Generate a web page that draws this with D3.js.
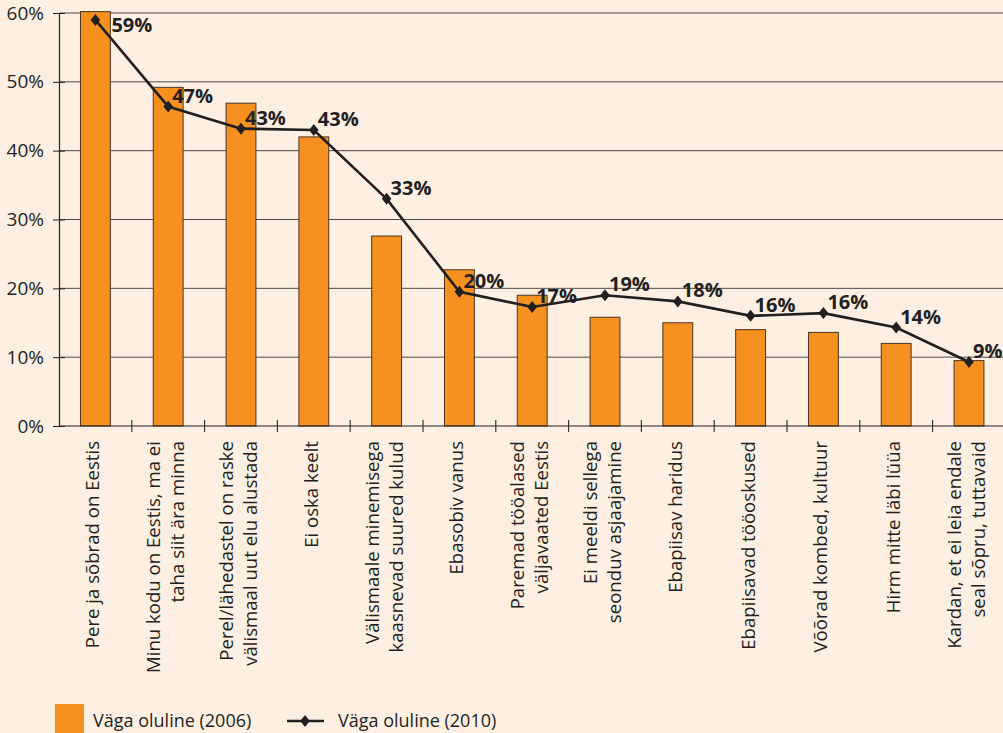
<!DOCTYPE html>
<html lang="et">
<head>
<meta charset="UTF-8">
<title>Väga oluline 2006 / 2010</title>
<script src="https://d3js.org/d3.v7.min.js"></script>
<style>
  html, body { margin: 0; padding: 0; background: #fdf0e2; }
  svg { display: block; }
  text { font-family: 'Open Sans', sans-serif; fill: #231f20; }
</style>
</head>
<body>
<svg id="chart" width="1003" height="733"></svg>
<script>
// categories (each entry = label lines)
const categories = [
  ['Pere ja sõbrad on Eestis'],
  ['Minu kodu on Eestis, ma ei', 'taha siit ära minna'],
  ['Perel/lähedastel on raske', 'välismaal uut elu alustada'],
  ['Ei oska keelt'],
  ['Välismaale minemisega', 'kaasnevad suured kulud'],
  ['Ebasobiv vanus'],
  ['Paremad tööalased', 'väljavaated Eestis'],
  ['Ei meeldi sellega', 'seonduv asjaajamine'],
  ['Ebapiisav haridus'],
  ['Ebapiisavad tööoskused'],
  ['Võõrad kombed, kultuur'],
  ['Hirm mitte läbi lüüa'],
  ['Kardan, et ei leia endale', 'seal sõpru, tuttavaid']
];
const values2006 = [60.2, 49.2, 46.9, 42.0, 27.6, 22.7, 19.0, 15.8, 15.0, 14.0, 13.6, 12.0, 9.5];
const values2010 = [59.0, 46.4, 43.2, 43.0, 33.0, 19.5, 17.3, 19.0, 18.1, 16.0, 16.4, 14.3, 9.3];
const labels2010 = ['59%', '47%', '43%', '43%', '33%', '20%', '17%', '19%', '18%', '16%', '16%', '14%', '9%'];
const yTicks = [0, 10, 20, 30, 40, 50, 60];
const legendNames = ['Väga oluline (2006)', 'Väga oluline (2010)'];

const svg = d3.select('#chart');
const W = +svg.attr('width');

const mLeft = 59, mTop = 13, mBottom = 426, step = 72.8;
const idx = categories.map((d, i) => i);

const x = d3.scaleBand().domain(idx).range([mLeft, mLeft + step * categories.length]).padding(0);
const y = d3.scaleLinear().domain([0, 60]).range([mBottom, mTop]);
const barW = x.bandwidth() * 0.41;

// gridlines
svg.append('g').selectAll('line').data(yTicks.filter(t => t > 0)).enter().append('line')
  .attr('x1', mLeft).attr('x2', W)
  .attr('y1', d => y(d)).attr('y2', d => y(d))
  .attr('stroke', '#4d4a48').attr('stroke-width', 1);

// bars
svg.append('g').selectAll('rect').data(values2006).enter().append('rect')
  .attr('x', (d, i) => x(i) + (x.bandwidth() - barW) / 2)
  .attr('y', d => y(d))
  .attr('width', barW)
  .attr('height', d => y(0) - y(d))
  .attr('fill', '#f6901e')
  .attr('stroke', '#4a3524').attr('stroke-width', 1);

// y axis
const yAxis = svg.append('g').attr('transform', `translate(${mLeft},0)`)
  .call(d3.axisLeft(y).tickValues(yTicks).tickFormat(d => d + '%').tickSize(6).tickPadding(9));
yAxis.select('.domain').attr('stroke', '#231f20').attr('stroke-width', 1.2);
yAxis.selectAll('.tick line').attr('x1', -6).attr('x2', 6).attr('stroke', '#231f20');
yAxis.selectAll('.tick text').style('font-size', '19px').attr('fill', '#231f20')
  .attr('font-family', "'Open Sans', sans-serif");

// x axis
svg.append('line').attr('x1', mLeft).attr('x2', W).attr('y1', mBottom).attr('y2', mBottom)
  .attr('stroke', '#231f20').attr('stroke-width', 1.2);
svg.append('g').selectAll('line').data(idx.slice(1)).enter().append('line')
  .attr('x1', d => x(d)).attr('x2', d => x(d))
  .attr('y1', mBottom - 6).attr('y2', mBottom + 6)
  .attr('stroke', '#3a3634').attr('stroke-width', 1.2);

// category labels
const lineH = 24;
const catG = svg.append('g').selectAll('g').data(categories).enter().append('g')
  .attr('transform', (d, i) => `translate(${x(i) + x.bandwidth() / 2},441) rotate(-90)`);
catG.each(function(lines) {
  const g = d3.select(this);
  lines.forEach((t, j) => {
    g.append('text')
      .attr('x', 0)
      .attr('y', (j - (lines.length - 1) / 2) * lineH + 4)
      .attr('text-anchor', 'end')
      .style('font-size', '18.6px')
      .text(t);
  });
});

// 2010 line
const cx = i => x(i) + x.bandwidth() / 2;
svg.append('path').datum(values2010)
  .attr('d', d3.line().x((d, i) => cx(i)).y(d => y(d)))
  .attr('fill', 'none').attr('stroke', '#231f20').attr('stroke-width', 2.6);

const diamond = {
  draw(ctx) {
    ctx.moveTo(0, -6); ctx.lineTo(4.8, 0); ctx.lineTo(0, 6); ctx.lineTo(-4.8, 0); ctx.closePath();
  }
};
svg.append('g').selectAll('path').data(values2010).enter().append('path')
  .attr('transform', (d, i) => `translate(${cx(i)},${y(d)})`)
  .attr('d', d3.symbol().type(diamond))
  .attr('fill', '#231f20');

// data labels
svg.append('g').selectAll('text').data(values2010).enter().append('text')
  .attr('x', (d, i) => cx(i) + (y(d) - 18 < mTop ? 16 : 4))
  .attr('y', d => y(d) - 18 < mTop ? y(d) + 12 : y(d) - 4)
  .style('font-size', '20px').style('font-weight', 700)
  .text((d, i) => labels2010[i]);

// legend
const lg = svg.append('g');
lg.append('rect').attr('x', 55).attr('y', 704).attr('width', 29).attr('height', 30).attr('fill', '#f6901e');
lg.append('text').attr('x', 93).attr('y', 727).style('font-size', '18px').text(legendNames[0]);
lg.append('line').attr('x1', 287).attr('x2', 324).attr('y1', 721).attr('y2', 721)
  .attr('stroke', '#231f20').attr('stroke-width', 2.6);
lg.append('path').attr('transform', 'translate(305,721)').attr('d', d3.symbol().type(diamond)).attr('fill', '#231f20');
lg.append('text').attr('x', 338).attr('y', 727).style('font-size', '18px').text(legendNames[1]);
</script>
</body>
</html>
